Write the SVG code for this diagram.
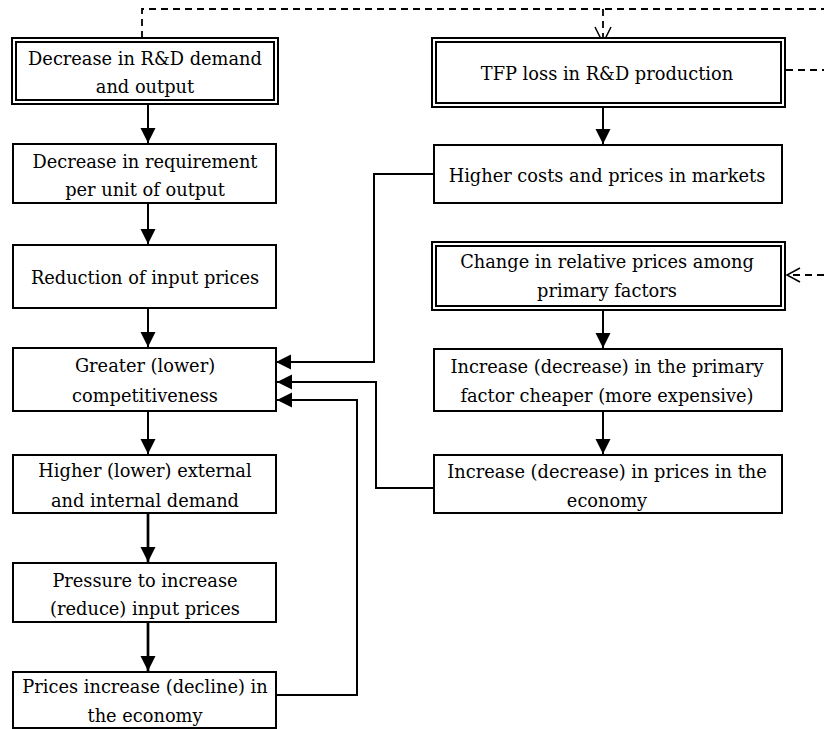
<svg xmlns="http://www.w3.org/2000/svg" width="824" height="729" viewBox="0 0 824 729">
<style>
.box{fill:#fff;stroke:#000;stroke-width:2}
.dbl{fill:none;stroke:#000;stroke-width:2}
.t{font-family:'DejaVu Serif',serif;font-size:17.8px;text-anchor:middle;fill:#000}
.ln{fill:none;stroke:#000;stroke-width:2}
.thk{fill:none;stroke:#000;stroke-width:2.7}
.dash{fill:none;stroke:#000;stroke-width:1.8;stroke-dasharray:7 5}
.open{fill:none;stroke:#000;stroke-width:1.5}
</style>
<defs>
<marker id="ah" markerUnits="userSpaceOnUse" markerWidth="16" markerHeight="16" refX="15" refY="7.5" orient="auto">
<path d="M0,0 L15,7.5 L0,15 z" fill="#000"/>
</marker>
</defs>
<rect width="824" height="729" fill="#fff"/>
<g id="connectors">
<path class="dash" d="M142,38 V9 H824"/>
<path class="dash" d="M603,9 V42"/>
<path class="open" d="M595,27 L603,43 L611,27"/>
<path class="dash" d="M786,70 H824"/>
<path class="dash" d="M824,275 H789"/>
<path class="open" d="M800,268 L787,275 L800,282"/>
<path class="ln" d="M148,104 V143" marker-end="url(#ah)"/>
<path class="ln" d="M148,203 V244" marker-end="url(#ah)"/>
<path class="ln" d="M148,308 V347" marker-end="url(#ah)"/>
<path class="ln" d="M148,411 V454" marker-end="url(#ah)"/>
<path class="thk" d="M148,513 V562" marker-end="url(#ah)"/>
<path class="thk" d="M148,622 V671" marker-end="url(#ah)"/>
<path class="ln" d="M603,107 V144" marker-end="url(#ah)"/>
<path class="ln" d="M603,310 V348" marker-end="url(#ah)"/>
<path class="ln" d="M603,411 V454" marker-end="url(#ah)"/>
<path class="ln" d="M434,174 H374 V362 H276" marker-end="url(#ah)"/>
<path class="ln" d="M434,488 H376 V382 H277" marker-end="url(#ah)"/>
<path class="ln" d="M276,695 H357 V400 H277" marker-end="url(#ah)"/>
</g>
<g id="n1">
<rect class="box" x="12" y="38" width="266" height="66"/>
<rect class="dbl" x="16" y="42" width="258" height="58"/>
<text class="t" x="145" y="65">Decrease in R&amp;D demand</text>
<text class="t" x="145" y="93">and output</text>
</g>
<g id="n2">
<rect class="box" x="13" y="144" width="263" height="59"/>
<text class="t" x="145" y="168">Decrease in requirement</text>
<text class="t" x="145" y="196">per unit of output</text>
</g>
<g id="n3">
<rect class="box" x="13" y="245" width="263" height="63"/>
<text class="t" x="145" y="284">Reduction of input prices</text>
</g>
<g id="n4">
<rect class="box" x="13" y="348" width="263" height="63"/>
<text class="t" x="145" y="372">Greater (lower)</text>
<text class="t" x="145" y="402">competitiveness</text>
</g>
<g id="n5">
<rect class="box" x="13" y="455" width="263" height="58"/>
<text class="t" x="145" y="477">Higher (lower) external</text>
<text class="t" x="145" y="507">and internal demand</text>
</g>
<g id="n6">
<rect class="box" x="13" y="563" width="263" height="59"/>
<text class="t" x="145" y="587">Pressure to increase</text>
<text class="t" x="145" y="615">(reduce) input prices</text>
</g>
<g id="n7">
<rect class="box" x="13" y="672" width="263" height="56"/>
<text class="t" x="145" y="693">Prices increase (decline) in</text>
<text class="t" x="145" y="722">the economy</text>
</g>
<g id="n8">
<rect class="box" x="432" y="38" width="353" height="69"/>
<rect class="dbl" x="436" y="42" width="345" height="61"/>
<text class="t" x="607" y="80">TFP loss in R&amp;D production</text>
</g>
<g id="n9">
<rect class="box" x="434" y="145" width="348" height="58"/>
<text class="t" x="607" y="182">Higher costs and prices in markets</text>
</g>
<g id="n10">
<rect class="box" x="432" y="242" width="353" height="68"/>
<rect class="dbl" x="436" y="246" width="345" height="60"/>
<text class="t" x="607" y="268">Change in relative prices among</text>
<text class="t" x="607" y="297">primary factors</text>
</g>
<g id="n11">
<rect class="box" x="434" y="349" width="348" height="62"/>
<text class="t" x="607" y="373">Increase (decrease) in the primary</text>
<text class="t" x="607" y="402">factor cheaper (more expensive)</text>
</g>
<g id="n12">
<rect class="box" x="434" y="455" width="348" height="58"/>
<text class="t" x="607" y="478">Increase (decrease) in prices in the</text>
<text class="t" x="607" y="507">economy</text>
</g>
</svg>
